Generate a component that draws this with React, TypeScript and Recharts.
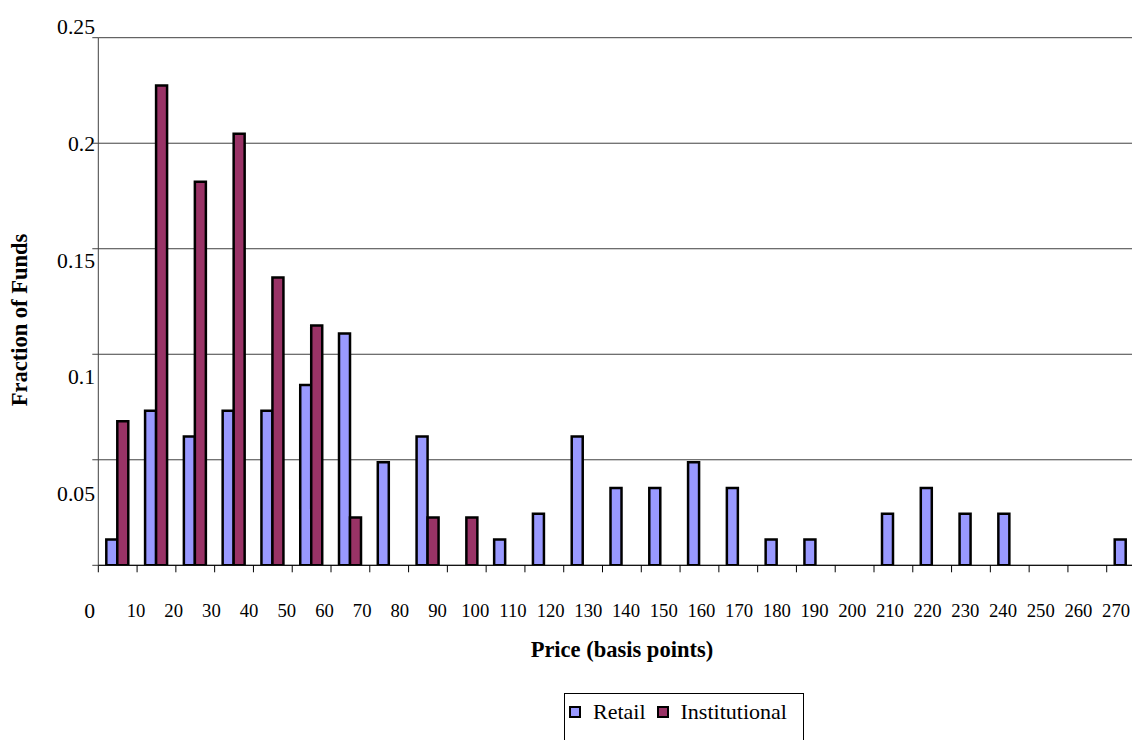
import React from "react";
import { Bar, BarChart, CartesianGrid, Legend, XAxis, YAxis } from "recharts";

const prices = [
  "10", "20", "30", "40", "50", "60", "70", "80", "90", "100", "110", "120", "130", "140",
  "150", "160", "170", "180", "190", "200", "210", "220", "230", "240", "250", "260", "270",
];

const retail = [
  0.0122, 0.0732, 0.061, 0.0732, 0.0732, 0.0854, 0.1098, 0.0488, 0.061, 0, 0.0122, 0.0244, 0.061,
  0.0366, 0.0366, 0.0488, 0.0366, 0.0122, 0.0122, 0, 0.0244, 0.0366, 0.0244, 0.0244, 0, 0, 0.0122,
];

const institutional = [
  0.0682, 0.2273, 0.1818, 0.2045, 0.1364, 0.1136, 0.0227, 0, 0.0227, 0.0227, 0, 0, 0, 0, 0, 0, 0,
  0, 0, 0, 0, 0, 0, 0, 0, 0, 0,
];

const priceLabels = [
  10, 20, 30, 40, 50, 60, 70, 80, 90, 100, 110, 120, 130, 140, 150, 160, 170, 180, 190, 200, 210,
  220, 230, 240, 250, 260, 270,
];
const fractionTicks = [0, 0.05, 0.1, 0.15, 0.2, 0.25];
const seriesOrder = ["Retail", "Institutional"];

const data = prices.map((price, i) => ({
  price,
  retail: retail[i],
  institutional: institutional[i],
}));

// tick marks sit on the category boundaries, not the centres
const boundaries = Array.from({ length: prices.length + 1 }, (_, i) => i);

const serif = "'Liberation Serif', 'Times New Roman', serif";

const noText = () => <g />;

const renderYTitle = () => (
  <text
    x={19}
    y={320}
    transform="rotate(-90, 19, 320)"
    textAnchor="middle"
    dominantBaseline="central"
    fontFamily={serif}
    fontSize={22.5}
    fontWeight="bold"
    fill="#000"
  >
    Fraction of Funds
  </text>
);

const renderLegend = ({ payload }: any) => {
  const items = [...(payload || [])].sort(
    (a: any, b: any) => seriesOrder.indexOf(a.value) - seriesOrder.indexOf(b.value)
  );
  return (
    <div
      style={{
        display: "flex",
        alignItems: "center",
        height: 36,
        paddingLeft: 4,
        fontFamily: serif,
        fontSize: 22,
        color: "#000",
      }}
    >
      {items.map((item: any) => (
        <span key={item.value} style={{ display: "flex", alignItems: "center", marginRight: 11 }}>
          <span
            style={{
              display: "inline-block",
              width: 12,
              height: 12,
              boxSizing: "border-box",
              border: "2px solid #000",
              background: item.color,
              marginRight: 12,
            }}
          />
          {item.value}
        </span>
      ))}
    </div>
  );
};

export default function App() {
  return (
    <div
      style={{
        position: "fixed",
        left: 0,
        top: 0,
        width: 1132,
        height: 740,
        overflow: "hidden",
        background: "#fff",
      }}
    >
      <BarChart
        width={1170}
        height={780}
        data={data}
        margin={{ top: 37.7, left: 52.3, right: 24.5, bottom: 206.7 }}
        barGap={0}
        barSize={11}
      >
        <CartesianGrid vertical={false} stroke="#404040" />
        <XAxis dataKey="price" hide height={0} />
        <XAxis
          xAxisId="xBounds"
          type="number"
          dataKey="none"
          domain={[0, prices.length]}
          ticks={boundaries}
          allowDataOverflow
          interval={0}
          tick={noText}
          tickSize={7}
          stroke="#000"
          height={7}
        />
        <XAxis
          xAxisId="xLabels"
          type="number"
          dataKey="none"
          domain={[0, 277.8]}
          ticks={priceLabels}
          allowDataOverflow
          interval={0}
          axisLine={false}
          tickLine={false}
          tickSize={0}
          tickMargin={31.4}
          height={1}
          tick={{ fontFamily: serif, fontSize: 18.7, fill: "#000" }}
          label={{
            value: "Price (basis points)",
            position: "bottom",
            offset: 67.7,
            fontFamily: serif,
            fontSize: 22.5,
            fontWeight: "bold",
            fill: "#000",
          }}
        />
        <YAxis
          domain={[0, 0.25]}
          ticks={fractionTicks}
          allowDataOverflow
          interval={0}
          tick={noText}
          tickSize={6}
          stroke="#404040"
          width={6}
        />
        <YAxis
          yAxisId="yLabels"
          domain={[0.0191, 0.2453]}
          ticks={fractionTicks}
          allowDataOverflow
          interval={0}
          axisLine={false}
          tickLine={false}
          tickSize={0}
          tickMargin={-2.7}
          width={40}
          tick={{ fontFamily: serif, fontSize: 21.7, fill: "#000" }}
          label={{ value: "Fraction of Funds", content: renderYTitle }}
        />
        <Legend
          layout="horizontal"
          align="center"
          verticalAlign="middle"
          width={240}
          height={60}
          wrapperStyle={{
            top: 693.3,
            left: 564,
            border: "1px solid #000",
            boxSizing: "border-box",
            background: "#fff",
          }}
          content={renderLegend}
        />
        <Bar
          dataKey="retail"
          name="Retail"
          fill="#9999FF"
          stroke="#000"
          strokeWidth={2.5}
          isAnimationActive={false}
        />
        <Bar
          dataKey="institutional"
          name="Institutional"
          fill="#993366"
          stroke="#000"
          strokeWidth={2.5}
          isAnimationActive={false}
        />
      </BarChart>
    </div>
  );
}
